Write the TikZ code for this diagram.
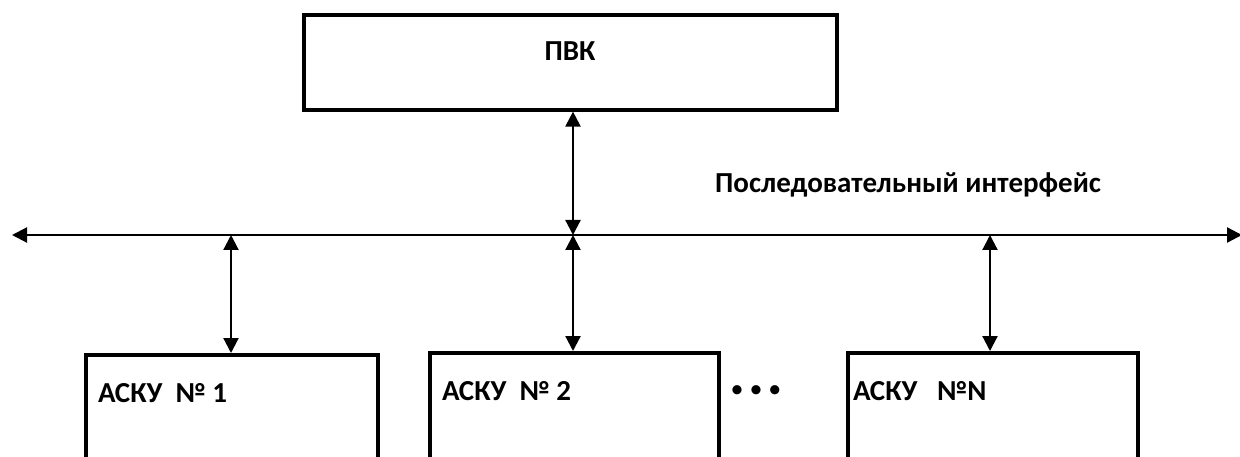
\documentclass[tikz,border=0pt]{standalone}
\usepackage{fontspec}
\setmainfont{Carlito}
\usetikzlibrary{arrows.meta}
\begin{document}
\begin{tikzpicture}[x=1pt,y=-1pt,
  blk/.style={draw=black, line width=3.6pt, anchor=north west, inner sep=0pt},
  lbl/.style={font=\bfseries\fontsize{29}{34}\selectfont, inner sep=0pt, anchor=base west},
  link/.style={line width=2.2pt, {Triangle[length=15pt,width=15pt]}-{Triangle[length=15pt,width=15pt]}}
]
\useasboundingbox (0,0) rectangle (1240,457);
\clip (0,0) rectangle (1240,457);
% top box
\node[blk, minimum width=533pt, minimum height=95pt] (pvk) at (302,13) {};
\node[lbl, anchor=base] (tpvk) at (570,61) {ПВК};
% bus
\coordinate (busL) at (12,235);
\coordinate (busR) at (1242,235);
\draw[link] (busL) -- (busR);
\coordinate (b0) at (573,235);
\coordinate (b1) at (231,235);
\coordinate (b3) at (990,235);
% bottom boxes (cut at bottom)
\node[blk, minimum width=292pt, minimum height=160pt] (a1) at (84,353) {};
\node[blk, minimum width=289pt, minimum height=160pt] (a2) at (428,351) {};
\node[blk, minimum width=290pt, minimum height=160pt] (a3) at (846,351) {};
\node[lbl] (t1) at (98,402) {АСКУ\ \ № 1};
\node[lbl] (t2) at (442,400) {АСКУ\ \ № 2};
\node[lbl] (t3) at (853,400) {АСКУ\ \ \ №N};
% connectors
\draw[link] (pvk.south -| b0) -- (b0);
\draw[link] (b1) -- (a1.north -| b1);
\draw[link] (b0) -- (a2.north -| b0);
\draw[link] (b3) -- (a3.north -| b3);
% dots
\node[font=\fontsize{26}{30}\selectfont, inner sep=0pt] (dots) at (756,392) {•\hspace{6pt}•\hspace{6pt}•};
% interface label
\node[lbl] (iface) at (715,193) {Последовательный интерфейс};
\end{tikzpicture}
\end{document}
